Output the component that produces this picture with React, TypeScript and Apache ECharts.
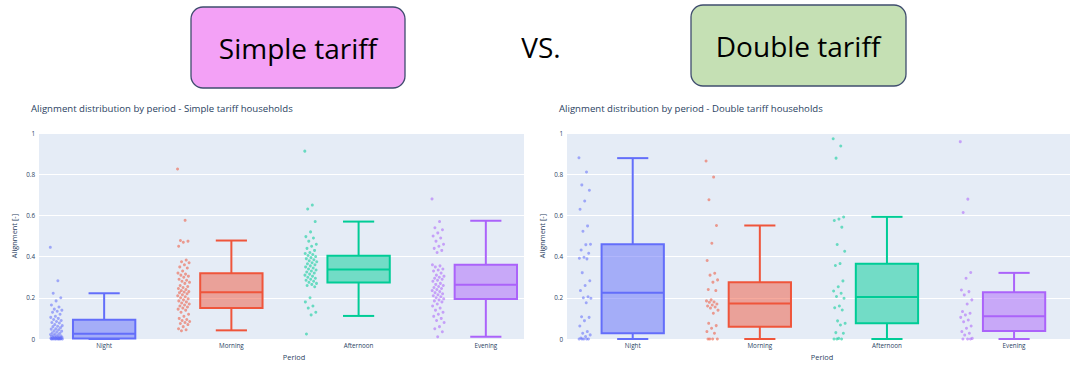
import React, { useEffect, useRef } from "react";
import * as echarts from "echarts";

const categories = ["Night", "Morning", "Afternoon", "Evening"];
const colors = ["#636EFA", "#EF553B", "#00CC96", "#AB63FA"];
const fills = ["rgba(99,110,250,0.5)", "rgba(239,85,59,0.5)", "rgba(0,204,150,0.5)", "rgba(171,99,250,0.5)"];
const yTicks = [0, 0.2, 0.4, 0.6, 0.8, 1];

// [min, q1, median, q3, max]
const simpleBoxes = [
  [0, 0.003, 0.025, 0.093, 0.222],
  [0.042, 0.151, 0.227, 0.319, 0.478],
  [0.112, 0.274, 0.337, 0.404, 0.57],
  [0.011, 0.194, 0.263, 0.361, 0.574],
];
const doubleBoxes = [
  [0, 0.028, 0.225, 0.46, 0.878],
  [0, 0.06, 0.172, 0.276, 0.551],
  [0, 0.076, 0.204, 0.365, 0.593],
  [0, 0.039, 0.11, 0.227, 0.321],
];

const simpleNight = [0.445, 0.283, 0.222, 0.2, 0.185, 0.165, 0.155, 0.145, 0.14, 0.135, 0.13, 0.12, 0.11, 0.105, 0.1, 0.095, 0.09, 0.085, 0.08, 0.078, 0.07, 0.065, 0.062, 0.06, 0.055, 0.05, 0.048, 0.045, 0.04, 0.038, 0.035, 0.03, 0.028, 0.025, 0.022, 0.02, 0.018, 0.015, 0.013, 0.012, 0.01, 0.009, 0.008, 0.007, 0.006, 0.005, 0.005, 0.004, 0.003, 0.003, 0.002, 0.002, 0.001, 0.001, 0, 0, 0, 0, 0, 0, 0, 0];
const simpleMorning = [0.825, 0.576, 0.478, 0.475, 0.47, 0.45, 0.383, 0.375, 0.37, 0.36, 0.35, 0.345, 0.33, 0.32, 0.315, 0.31, 0.305, 0.3, 0.29, 0.285, 0.28, 0.275, 0.27, 0.26, 0.255, 0.25, 0.245, 0.24, 0.235, 0.23, 0.228, 0.225, 0.22, 0.215, 0.21, 0.205, 0.2, 0.195, 0.19, 0.185, 0.18, 0.175, 0.17, 0.165, 0.16, 0.155, 0.15, 0.145, 0.14, 0.13, 0.12, 0.11, 0.1, 0.095, 0.09, 0.085, 0.08, 0.075, 0.07, 0.06, 0.05, 0.045, 0.04];
const simpleAfternoon = [0.912, 0.65, 0.631, 0.57, 0.52, 0.497, 0.49, 0.475, 0.46, 0.45, 0.44, 0.43, 0.42, 0.415, 0.41, 0.405, 0.4, 0.395, 0.39, 0.385, 0.38, 0.375, 0.37, 0.365, 0.36, 0.355, 0.35, 0.345, 0.34, 0.335, 0.33, 0.325, 0.32, 0.315, 0.31, 0.305, 0.3, 0.295, 0.29, 0.285, 0.28, 0.275, 0.27, 0.265, 0.26, 0.254, 0.2, 0.18, 0.16, 0.15, 0.13, 0.117, 0.024];
const simpleEvening = [0.68, 0.57, 0.54, 0.53, 0.515, 0.5, 0.49, 0.475, 0.46, 0.45, 0.44, 0.43, 0.42, 0.36, 0.355, 0.35, 0.34, 0.335, 0.33, 0.32, 0.31, 0.305, 0.3, 0.295, 0.29, 0.285, 0.28, 0.27, 0.265, 0.26, 0.255, 0.25, 0.245, 0.24, 0.235, 0.23, 0.225, 0.22, 0.215, 0.21, 0.205, 0.2, 0.195, 0.19, 0.185, 0.18, 0.17, 0.16, 0.15, 0.14, 0.13, 0.12, 0.11, 0.1, 0.09, 0.08, 0.06, 0.05, 0.035, 0.011];

const doubleNight = [0.88, 0.811, 0.748, 0.722, 0.67, 0.63, 0.549, 0.523, 0.46, 0.458, 0.432, 0.416, 0.397, 0.392, 0.389, 0.322, 0.283, 0.26, 0.235, 0.205, 0.2, 0.198, 0.176, 0.108, 0.105, 0.089, 0.063, 0.036, 0.028, 0.02, 0.012, 0.005, 0, 0, 0, 0, 0];
const doubleMorning = [0.864, 0.786, 0.676, 0.551, 0.465, 0.381, 0.319, 0.31, 0.287, 0.276, 0.24, 0.235, 0.19, 0.185, 0.18, 0.178, 0.17, 0.165, 0.16, 0.155, 0.15, 0.14, 0.125, 0.076, 0.065, 0.052, 0.036, 0.028, 0, 0, 0, 0];
const doubleAfternoon = [0.972, 0.937, 0.878, 0.592, 0.582, 0.575, 0.543, 0.459, 0.426, 0.366, 0.357, 0.282, 0.254, 0.233, 0.222, 0.206, 0.198, 0.16, 0.152, 0.141, 0.088, 0.076, 0.068, 0.031, 0.028, 0.003, 0, 0, 0];
const doubleEvening = [0.958, 0.679, 0.614, 0.323, 0.295, 0.238, 0.23, 0.214, 0.19, 0.17, 0.133, 0.125, 0.117, 0.105, 0.092, 0.084, 0.063, 0.052, 0.036, 0.028, 0.019, 0.003, 0, 0, 0];

const simplePoints = [simpleNight, simpleMorning, simpleAfternoon, simpleEvening];
const doublePoints = [doubleNight, doubleMorning, doubleAfternoon, doubleEvening];

const FONT = '"Open Sans", verdana, arial, sans-serif';
const TXT = "#2a3f5f";
const BOX_HALF = 0.245;
const CAP_HALF = 0.1225;
const POINT_POS = -0.375;
const JITTER = 0.048;

function pointData(groups: number[][]) {
  const out: any[] = [];
  groups.forEach((vals, c) => {
    vals.forEach((v, i) => {
      const off = (((i * 0.6180339887) % 1) - 0.5) * 2 * JITTER;
      out.push({ value: [c + POINT_POS + off, v], itemStyle: { color: colors[c] } });
    });
  });
  return out;
}

function boxData(boxes: number[][]) {
  return boxes.map((b, c) => [c, ...b]);
}

const renderBox = (params: any, api: any) => {
  const c = api.value(0);
  const mn = api.value(1), q1 = api.value(2), md = api.value(3), q3 = api.value(4), mx = api.value(5);
  const tl = api.coord([c - BOX_HALF, q3]);
  const br = api.coord([c + BOX_HALF, q1]);
  const m1 = api.coord([c - BOX_HALF, md]);
  const m2 = api.coord([c + BOX_HALF, md]);
  const top = api.coord([c, mx]);
  const bot = api.coord([c, mn]);
  const q3c = api.coord([c, q3]);
  const q1c = api.coord([c, q1]);
  const ct1 = api.coord([c - CAP_HALF, mx]);
  const ct2 = api.coord([c + CAP_HALF, mx]);
  const cb1 = api.coord([c - CAP_HALF, mn]);
  const cb2 = api.coord([c + CAP_HALF, mn]);
  const stroke = colors[c];
  const ls = { stroke, lineWidth: 2, fill: "none" };
  return {
    type: "group",
    children: [
      { type: "line", shape: { x1: top[0], y1: top[1], x2: q3c[0], y2: q3c[1] }, style: ls },
      { type: "line", shape: { x1: bot[0], y1: bot[1], x2: q1c[0], y2: q1c[1] }, style: ls },
      { type: "line", shape: { x1: ct1[0], y1: ct1[1], x2: ct2[0], y2: ct2[1] }, style: ls },
      { type: "line", shape: { x1: cb1[0], y1: cb1[1], x2: cb2[0], y2: cb2[1] }, style: ls },
      {
        type: "rect",
        shape: { x: tl[0], y: tl[1], width: br[0] - tl[0], height: br[1] - tl[1] },
        style: { fill: fills[c], stroke, lineWidth: 2 },
      },
      { type: "line", shape: { x1: m1[0], y1: m1[1], x2: m2[0], y2: m2[1] }, style: ls },
    ],
  };
};

function xAxis(gridIndex: number, min: number, max: number) {
  return {
    type: "value",
    gridIndex,
    min,
    max,
    axisLine: { show: false },
    axisTick: { show: false },
    splitLine: { show: false },
    axisLabel: {
      customValues: [0, 1, 2, 3],
      formatter: (v: number) => categories[Math.round(v)] ?? "",
      fontSize: 6.3,
      color: TXT,
      fontFamily: FONT,
      margin: 3,
    },
  };
}

function yAxis(gridIndex: number) {
  return {
    type: "value",
    gridIndex,
    min: 0,
    max: 1,
    interval: 0.2,
    name: "Alignment [-]",
    nameLocation: "middle",
    nameRotate: 90,
    nameGap: 22,
    nameTextStyle: { fontSize: 7.4, color: TXT, fontFamily: FONT },
    axisLine: { show: false },
    axisTick: { show: false },
    splitLine: { show: true, lineStyle: { color: "#ffffff", width: 1 } },
    axisLabel: {
      customValues: yTicks,
      formatter: (v: number) => String(Math.round(v * 10) / 10),
      fontSize: 6.3,
      color: TXT,
      fontFamily: FONT,
      margin: 4,
    },
  };
}

export default function App() {
  const ref = useRef<HTMLDivElement>(null);
  useEffect(() => {
    if (!ref.current) return;
    const chart = echarts.init(ref.current, undefined, { renderer: "svg" });
    chart.setOption({
      animation: false,
      backgroundColor: "#ffffff",
      title: [
        {
          text: "Alignment distribution by period - Simple tariff households",
          left: 26,
          top: 98,
          textStyle: { fontSize: 9.6, fontWeight: "normal", color: TXT, fontFamily: FONT },
        },
        {
          text: "Alignment distribution by period - Double tariff households",
          left: 554,
          top: 98,
          textStyle: { fontSize: 9.6, fontWeight: "normal", color: TXT, fontFamily: FONT },
        },
      ],
      grid: [
        { left: 39, top: 133, width: 485, height: 206, show: true, backgroundColor: "#E5ECF6", borderWidth: 0 },
        { left: 567, top: 133, width: 503, height: 206, show: true, backgroundColor: "#E5ECF6", borderWidth: 0 },
      ],
      xAxis: [xAxis(0, -0.512, 3.3), xAxis(1, -0.517, 3.44)],
      yAxis: [yAxis(0), yAxis(1)],
      graphic: [
        {
          type: "rect",
          shape: { x: 191, y: 7, width: 214, height: 81, r: 12 },
          style: { fill: "#F3A1F6", stroke: "#3F4D6E", lineWidth: 1.3 },
        },
        {
          type: "text",
          x: 298,
          y: 48,
          style: { text: "Simple tariff", fontSize: 28, fontFamily: FONT, fill: "#000000", align: "center", verticalAlign: "middle" },
        },
        {
          type: "text",
          x: 541,
          y: 47,
          style: { text: "VS.", fontSize: 28, fontFamily: FONT, fill: "#000000", align: "center", verticalAlign: "middle" },
        },
        {
          type: "rect",
          shape: { x: 691, y: 5, width: 215, height: 81, r: 12 },
          style: { fill: "#C5E0B4", stroke: "#3F4D6E", lineWidth: 1.3 },
        },
        {
          type: "text",
          x: 798,
          y: 46,
          style: { text: "Double tariff", fontSize: 28, fontFamily: FONT, fill: "#000000", align: "center", verticalAlign: "middle" },
        },
        {
          type: "text",
          x: 294,
          y: 357,
          style: { text: "Period", fontSize: 7.4, fontFamily: FONT, fill: TXT, align: "center", verticalAlign: "middle" },
        },
        {
          type: "text",
          x: 822,
          y: 357,
          style: { text: "Period", fontSize: 7.4, fontFamily: FONT, fill: TXT, align: "center", verticalAlign: "middle" },
        },
      ],
      series: [
        {
          type: "custom",
          xAxisIndex: 0,
          yAxisIndex: 0,
          renderItem: renderBox,
          encode: { x: 0, y: [1, 2, 3, 4, 5] },
          data: boxData(simpleBoxes),
          silent: true,
        },
        {
          type: "custom",
          xAxisIndex: 1,
          yAxisIndex: 1,
          renderItem: renderBox,
          encode: { x: 0, y: [1, 2, 3, 4, 5] },
          data: boxData(doubleBoxes),
          silent: true,
        },
        {
          type: "scatter",
          xAxisIndex: 0,
          yAxisIndex: 0,
          symbolSize: 3,
          itemStyle: { opacity: 0.55 },
          data: pointData(simplePoints),
          silent: true,
        },
        {
          type: "scatter",
          xAxisIndex: 1,
          yAxisIndex: 1,
          symbolSize: 3,
          itemStyle: { opacity: 0.55 },
          data: pointData(doublePoints),
          silent: true,
        },
      ],
    });
    return () => chart.dispose();
  }, []);
  return (
    <div
      ref={ref}
      style={{ position: "absolute", left: 0, top: 0, width: 1070, height: 365 }}
    />
  );
}
